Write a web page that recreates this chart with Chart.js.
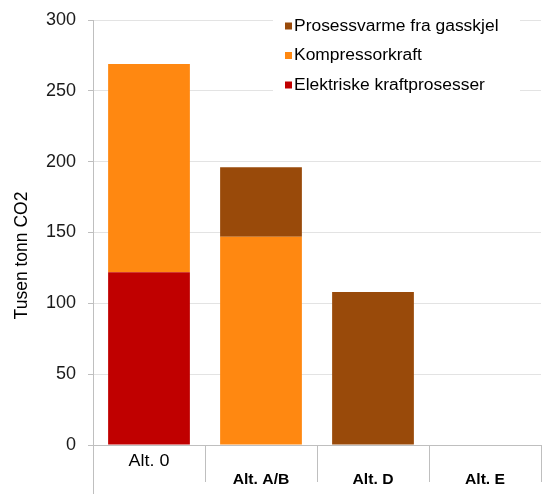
<!DOCTYPE html>
<html>
<head>
<meta charset="utf-8">
<script src="https://cdn.jsdelivr.net/npm/chart.js@4/dist/chart.umd.min.js"></script>
<style>
  html, body { margin: 0; padding: 0; background: #ffffff; }
  #wrap { width: 542px; height: 494px; position: relative; }
</style>
</head>
<body>
<div id="wrap"><canvas id="c" width="542" height="494"></canvas></div>
<script>
// Categories (alternatives) and emissions per source, thousand tonnes CO2
const categories = ['Alt. 0', 'Alt. A/B', 'Alt. D', 'Alt. E'];
const elektriske = [122, 0, 0, 0];
const kompressor = [147, 147, 0, 0];
const prosessvarme = [0, 49, 108, 0];
const yTicks = [0, 50, 100, 150, 200, 250, 300];
const yTitle = 'Tusen tonn CO2';

const FONT = '"Liberation Sans", Arial, sans-serif';

function wideText(ctx, text, x, y, align, stretch) {
  ctx.save();
  ctx.translate(x, y);
  ctx.scale(stretch, 1);
  ctx.textAlign = align;
  ctx.fillText(text, 0, 0);
  ctx.restore();
}

// Category labels, axis title and the lower part of the value axis line
const axisDecor = {
  id: 'axisDecor',
  afterDraw(chart) {
    const ctx = chart.ctx;
    const xs = chart.scales.x;
    const ca = chart.chartArea;
    const base = ca.bottom;
    ctx.save();
    ctx.fillStyle = '#000000';
    ctx.textBaseline = 'middle';
    categories.forEach((lab, i) => {
      const x = xs.getPixelForTick(i);
      if (i === 0) {
        ctx.font = '16px ' + FONT;
        wideText(ctx, lab, x, base + 17, 'center', 1.12);
      } else {
        ctx.font = 'bold 14px ' + FONT;
        wideText(ctx, lab, x, base + 35, 'center', 1.12);
      }
    });
    // rotated axis title
    ctx.save();
    ctx.font = '17.5px ' + FONT;
    ctx.translate(22, (ca.top + ca.bottom) / 2 + 23);
    ctx.rotate(-Math.PI / 2);
    ctx.textAlign = 'center';
    ctx.fillText(yTitle, 0, 0);
    ctx.restore();
    // y-axis line continues down past the category band
    ctx.strokeStyle = '#bfbfbf';
    ctx.lineWidth = 1;
    ctx.beginPath();
    ctx.moveTo(ca.left + 0.5, base);
    ctx.lineTo(ca.left + 0.5, chart.height);
    ctx.stroke();
    ctx.restore();
  }
};

// Legend box in the upper right of the plot, series listed top-down
const boxLegend = {
  id: 'boxLegend',
  afterDraw(chart) {
    const ctx = chart.ctx;
    const ca = chart.chartArea;
    const left = ca.left + 180, top = 10, w = 247, h = 87;
    ctx.save();
    ctx.fillStyle = '#ffffff';
    ctx.fillRect(left, top, w, h);
    const items = chart.data.datasets.slice().reverse();
    ctx.font = '16px ' + FONT;
    ctx.textBaseline = 'middle';
    items.forEach((ds, i) => {
      const cy = top + 16 + i * 29.5;
      ctx.fillStyle = ds.backgroundColor;
      ctx.fillRect(left + 12, cy - 3.5, 7, 7);
      ctx.fillStyle = '#000000';
      wideText(ctx, ds.label, left + 21, cy + 0.5, 'left', 1.09);
    });
    ctx.restore();
  }
};

new Chart(document.getElementById('c'), {
  type: 'bar',
  data: {
    labels: categories,
    datasets: [
      { label: 'Elektriske kraftprosesser', data: elektriske, backgroundColor: '#c00000' },
      { label: 'Kompressorkraft', data: kompressor, backgroundColor: '#ff8811' },
      { label: 'Prosessvarme fra gasskjel', data: prosessvarme, backgroundColor: '#994a0a' }
    ]
  },
  options: {
    responsive: false,
    animation: false,
    devicePixelRatio: 1,
    layout: { padding: { top: 20, right: 1, left: 0, bottom: 0 } },
    datasets: { bar: { categoryPercentage: 1.0, barPercentage: 0.73 } },
    plugins: { legend: { display: false }, tooltip: { enabled: false } },
    scales: {
      x: {
        stacked: true,
        afterFit: s => { s.height = 49; },
        grid: {
          offset: true,
          drawOnChartArea: false,
          drawTicks: true,
          tickLength: 37,
          color: '#bfbfbf'
        },
        border: { color: '#bfbfbf' },
        ticks: { display: false }
      },
      y: {
        stacked: true,
        min: 0,
        max: 300,
        afterFit: s => { s.width = 93; s.paddingTop = 0; s.paddingBottom = 0; },
        afterBuildTicks: s => { s.ticks = yTicks.map(v => ({ value: v })); },
        grid: { color: '#e3e3e3', tickLength: 5, tickColor: '#bfbfbf' },
        border: { color: '#bfbfbf' },
        ticks: {
          color: '#1a1a1a',
          font: { family: FONT, size: 18 },
          padding: 12
        },
        title: { display: false }
      }
    }
  },
  plugins: [axisDecor, boxLegend]
});
</script>
</body>
</html>
